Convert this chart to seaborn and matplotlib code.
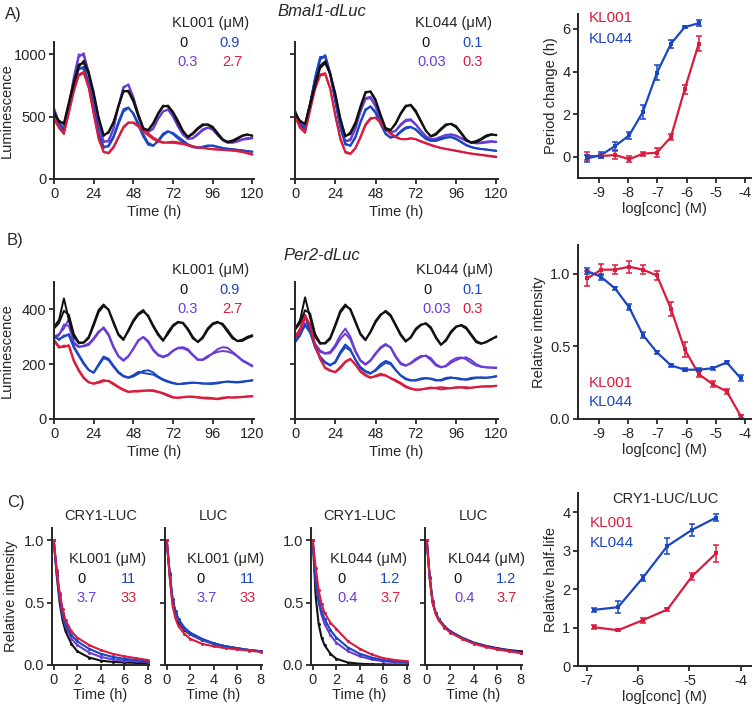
import numpy as np
import pandas as pd
import seaborn as sns
import matplotlib.pyplot as plt

# ---------------- data ----------------
hours = list(range(0, 121, 3))

# A) Bmal1-dLuc, KL001 (0, 0.3, 0.9, 2.7 uM), two replicates each
bmal_kl001_0_a = [520,470,440,600,760,900,950,860,700,500,355,370,450,580,700,710,640,520,410,390,440,520,580,590,540,470,390,335,360,400,430,440,420,370,320,295,300,320,345,355,350]
bmal_kl001_0_b = [540,460,450,620,780,920,930,840,680,480,345,380,460,590,710,700,620,500,400,395,450,530,590,580,530,450,380,340,370,410,440,435,410,360,315,300,310,330,350,360,345]
bmal_kl001_1_a = [560,460,400,600,820,1000,990,840,630,420,295,310,410,590,740,755,650,510,400,375,410,490,545,555,500,420,355,320,330,365,400,415,395,350,310,290,295,305,320,330,330]
bmal_kl001_1_b = [570,450,410,590,800,980,1010,860,650,440,305,300,400,580,730,760,660,520,410,380,400,480,540,560,510,430,365,325,325,355,390,410,400,360,320,295,290,300,315,320,325]
bmal_kl001_2_a = [540,440,380,560,760,880,900,780,580,370,260,260,330,440,540,570,530,450,360,290,270,300,350,380,370,340,310,280,260,250,255,265,270,260,250,245,240,235,230,225,220]
bmal_kl001_2_b = [550,450,390,580,780,900,880,760,560,360,250,270,345,460,560,575,520,430,340,275,265,310,365,385,360,325,295,270,255,250,260,270,265,255,245,240,238,232,228,222,218]
bmal_kl001_3_a = [500,420,370,540,720,840,860,740,530,330,220,210,260,340,420,455,450,420,380,350,320,300,290,295,300,295,285,275,265,255,250,245,240,238,235,232,230,225,220,210,200]
bmal_kl001_3_b = [480,410,360,530,700,830,850,730,520,320,215,205,250,330,410,450,455,430,395,365,335,310,295,290,290,285,280,270,260,252,248,244,238,236,233,230,228,222,216,205,195]

# A) Bmal1-dLuc, KL044 (0, 0.03, 0.1, 0.3 uM)
bmal_kl044_0_a = [540,460,445,610,770,910,945,850,690,490,345,360,440,570,690,705,640,520,410,395,440,520,580,597,550,470,390,340,355,395,430,445,425,375,320,290,295,315,340,355,355]
bmal_kl044_0_b = [520,470,440,590,750,890,930,840,680,480,340,375,455,585,700,700,625,505,400,390,450,530,590,590,535,460,385,345,365,405,440,440,415,365,310,295,305,325,350,360,350]
bmal_kl044_1_a = [540,450,420,600,800,960,990,850,640,430,300,310,400,540,640,650,580,480,390,370,390,440,475,480,440,390,345,320,325,340,355,355,345,325,305,290,290,295,300,305,300]
bmal_kl044_1_b = [550,440,430,610,810,970,980,840,630,425,305,320,410,550,650,660,590,490,400,375,385,430,465,470,435,385,340,315,320,335,350,360,350,330,310,295,285,288,292,298,296]
bmal_kl044_2_a = [540,440,410,600,820,980,980,830,620,410,275,270,340,460,560,580,530,440,360,330,345,385,415,420,395,355,320,305,310,325,335,335,320,295,270,255,245,240,235,230,225]
bmal_kl044_2_b = [550,430,400,590,800,960,995,850,640,420,285,265,330,450,550,585,540,450,365,335,340,375,405,415,400,360,325,308,305,318,330,338,325,300,275,258,248,242,238,232,228]
bmal_kl044_3_a = [520,420,380,560,740,840,850,730,520,330,220,205,250,340,440,490,490,450,400,360,335,320,320,328,320,305,290,275,262,250,242,235,228,220,212,205,200,195,190,185,180]
bmal_kl044_3_b = [500,410,370,550,720,830,840,720,505,320,212,200,245,330,430,480,495,460,410,368,340,322,318,325,318,300,285,270,258,248,240,233,225,218,210,203,197,192,186,180,175]

# B) Per2-dLuc, KL001
per2_kl001_0_a = [337,361,440,361,300,276,280,300,349,398,418,398,349,306,288,325,361,385,398,373,337,306,285,318,343,355,349,325,294,282,300,331,349,355,343,318,294,285,290,300,306]
per2_kl001_0_b = [330,350,395,380,310,280,278,295,340,390,412,400,355,310,292,320,355,380,392,378,342,312,288,310,338,352,352,330,300,280,295,325,345,352,348,325,300,284,285,295,302]
per2_kl001_1_a = [300,310,330,365,280,265,265,270,290,315,335,310,265,230,215,230,255,285,300,285,255,235,228,235,250,260,262,255,235,218,215,225,240,255,262,260,245,230,215,205,195]
per2_kl001_1_b = [295,305,345,340,275,262,268,275,295,320,330,305,260,228,212,228,258,288,298,280,250,232,225,232,248,258,258,250,232,215,218,230,238,245,248,246,240,228,212,202,192]
per2_kl001_2_a = [300,292,300,310,265,235,205,180,168,195,222,215,190,168,155,150,155,165,175,178,170,155,145,138,132,128,128,130,132,132,130,128,128,130,134,136,134,133,135,138,140]
per2_kl001_2_b = [305,288,305,305,260,230,200,178,170,200,228,220,195,172,158,152,160,172,168,165,162,152,142,135,130,127,130,132,133,131,129,130,131,133,135,137,136,135,137,139,142]
per2_kl001_3_a = [290,265,262,270,215,180,152,135,128,132,138,140,130,118,108,100,100,100,102,105,105,100,95,88,80,78,80,82,82,80,78,78,76,74,78,80,78,78,80,82,82]
per2_kl001_3_b = [285,260,268,265,210,175,148,133,130,136,142,138,126,115,105,98,102,103,104,103,102,98,92,84,78,77,79,81,80,78,76,74,74,72,75,78,79,80,81,82,84]

# B) Per2-dLuc, KL044
per2_kl044_0_a = [330,360,444,370,300,274,278,298,345,395,418,398,352,308,287,320,358,382,391,375,340,305,282,300,330,345,348,330,295,270,290,320,338,341,330,305,280,274,282,292,299]
per2_kl044_0_b = [325,350,397,385,310,278,275,292,338,388,412,402,358,312,290,316,352,378,395,380,345,310,285,296,325,342,350,335,300,272,285,315,335,344,335,310,285,276,280,290,302]
per2_kl044_1_a = [295,320,380,330,275,250,240,245,270,305,330,300,250,215,200,215,240,262,274,260,225,200,194,205,220,230,230,215,195,188,195,212,222,225,218,205,195,190,188,188,188]
per2_kl044_1_b = [280,305,350,320,268,245,238,240,262,292,312,290,245,212,198,212,236,258,270,262,230,205,196,202,215,226,232,222,200,190,192,205,215,222,225,215,200,192,189,187,186]
per2_kl044_2_a = [290,320,375,320,260,225,205,195,210,245,272,255,215,185,172,165,180,200,212,205,180,158,145,140,142,148,150,146,140,143,150,152,148,144,145,150,152,150,150,153,157]
per2_kl044_2_b = [280,305,342,315,262,228,208,198,205,238,262,250,218,190,175,168,176,192,205,200,178,160,148,142,140,145,148,148,143,140,146,150,150,147,143,146,150,152,151,152,155]
per2_kl044_3_a = [300,330,380,342,270,222,188,178,170,185,207,218,200,175,162,152,155,160,158,150,142,132,120,112,108,108,110,112,114,116,114,112,114,116,116,114,116,118,120,120,120]
per2_kl044_3_b = [295,320,370,345,265,218,185,175,172,190,210,220,198,172,158,150,158,165,160,148,138,128,116,110,106,107,112,115,112,108,110,113,116,115,112,114,117,119,118,118,122]

# dose-response curves (log10 M)
logc_period = [-9.40,-8.93,-8.45,-7.97,-7.50,-7.02,-6.54,-6.07,-5.59]
period_kl001 = [0.03,0.03,0.08,-0.12,0.14,0.19,0.92,3.16,5.30]
period_kl001_err = [0.20,0.10,0.20,0.15,0.10,0.20,0.15,0.20,0.35]
period_kl044 = [-0.08,0.08,0.50,1.00,2.10,3.94,5.30,6.08,6.27]
period_kl044_err = [0.15,0.15,0.20,0.15,0.35,0.35,0.20,0.05,0.15]

logc_amp = [-9.40,-8.93,-8.45,-7.97,-7.50,-7.02,-6.54,-6.07,-5.59,-5.11,-4.63,-4.15]
amp_kl001 = [0.97,1.03,1.03,1.05,1.03,0.99,0.76,0.48,0.31,0.24,0.19,0.02]
amp_kl001_err = [0.05,0.04,0.03,0.04,0.03,0.03,0.05,0.05,0.02,0.02,0.02,0.01]
amp_kl044 = [1.02,0.98,0.90,0.77,0.58,0.46,0.37,0.34,0.34,0.35,0.39,0.28]
amp_kl044_err = [0.02,0.02,0.01,0.02,0.02,0.01,0.01,0.01,0.01,0.01,0.01,0.02]

logc_half = [-6.86,-6.39,-5.91,-5.43,-4.95,-4.48]
half_kl001 = [1.01,0.93,1.19,1.47,2.33,2.93]
half_kl001_err = [0.05,0.03,0.06,0.04,0.10,0.22]
half_kl044 = [1.46,1.53,2.29,3.12,3.54,3.86]
half_kl044_err = [0.06,0.15,0.07,0.20,0.15,0.10]

# C) degradation time courses (relative intensity)
decay_t = [0,0.25,0.5,0.75,1,1.5,2,3,4,5,6,7,8]
cry_kl001_0 = [1.0,0.72,0.50,0.36,0.27,0.17,0.11,0.06,0.035,0.025,0.02,0.017,0.015]
cry_kl001_1 = [1.0,0.74,0.54,0.40,0.31,0.21,0.16,0.10,0.065,0.045,0.035,0.03,0.025]
cry_kl001_2 = [1.0,0.75,0.56,0.42,0.33,0.24,0.19,0.13,0.09,0.065,0.05,0.04,0.03]
cry_kl001_3 = [1.0,0.76,0.58,0.45,0.36,0.27,0.22,0.16,0.12,0.09,0.07,0.055,0.04]
luc_kl001_0 = [1.0,0.72,0.50,0.40,0.34,0.28,0.245,0.20,0.17,0.15,0.135,0.12,0.11]
luc_kl001_1 = [1.0,0.73,0.52,0.42,0.36,0.29,0.25,0.20,0.17,0.15,0.13,0.12,0.11]
luc_kl001_2 = [1.0,0.74,0.53,0.43,0.37,0.30,0.26,0.21,0.175,0.15,0.135,0.12,0.11]
luc_kl001_3 = [1.0,0.70,0.47,0.37,0.31,0.25,0.21,0.17,0.15,0.135,0.125,0.115,0.105]
cry_kl044_0 = [1.0,0.55,0.33,0.22,0.16,0.09,0.05,0.02,0.01,0.006,0.005,0.004,0.004]
cry_kl044_1 = [1.0,0.66,0.50,0.40,0.33,0.24,0.18,0.11,0.07,0.045,0.03,0.022,0.018]
cry_kl044_2 = [1.0,0.68,0.52,0.43,0.37,0.28,0.22,0.14,0.09,0.06,0.04,0.03,0.022]
cry_kl044_3 = [1.0,0.78,0.60,0.49,0.42,0.34,0.29,0.19,0.13,0.085,0.055,0.04,0.03]
luc_kl044_0 = [1.0,0.70,0.50,0.42,0.37,0.31,0.27,0.22,0.18,0.155,0.135,0.12,0.11]
luc_kl044_1 = [1.0,0.70,0.50,0.42,0.37,0.31,0.27,0.215,0.175,0.15,0.13,0.115,0.10]
luc_kl044_2 = [1.0,0.71,0.51,0.42,0.37,0.31,0.27,0.215,0.175,0.15,0.13,0.115,0.10]
luc_kl044_3 = [1.0,0.70,0.50,0.41,0.36,0.30,0.26,0.21,0.17,0.145,0.125,0.11,0.095]

# ---------------- style ----------------
sns.set_style('ticks')
plt.rcParams['font.family'] = ['Liberation Sans', 'DejaVu Sans']
plt.rcParams['axes.unicode_minus'] = False

BLACK, PURPLE, BLUE, RED = '#111111', '#6a3cd6', '#1a46c2', '#d81c3e'
dose_cols = [BLACK, PURPLE, BLUE, RED]
FS = 10.5

W, H = 754, 711
fig = plt.figure(figsize=(W / 100, H / 100), dpi=100)


def box(l, r, t, b):
    return fig.add_axes([l / W, 1 - b / H, (r - l) / W, (b - t) / H])


def ftext(x, y, s, **kw):
    kw.setdefault('ha', 'center')
    kw.setdefault('va', 'center')
    kw.setdefault('fontsize', FS)
    fig.text(x / W, 1 - y / H, s, **kw)


def style(ax):
    sns.despine(ax=ax)
    for s in ['left', 'bottom']:
        ax.spines[s].set_linewidth(1.4)
    ax.tick_params(width=1.3, length=3.5, labelsize=FS, pad=2)


def trace_frame(reps, doses):
    rows = []
    for dose, pair in zip(doses, reps):
        for k, vals in enumerate(pair):
            for t, v in zip(hours, vals):
                rows.append((t, v, dose, k))
    return pd.DataFrame(rows, columns=['time', 'lum', 'dose', 'rep'])


def trace_panel(ax, reps, doses, ymax, yticks, show_labels):
    df = trace_frame(reps, doses)
    pal = dict(zip(doses, dose_cols))
    order = doses[1:] + doses[:1]   # draw black last
    sns.lineplot(data=df, x='time', y='lum', hue='dose', units='rep', estimator=None,
                 hue_order=order, palette=pal, lw=1.4, legend=False, ax=ax)
    ax.set_xlim(0, 121)
    ax.set_ylim(0, ymax)
    ax.set_xticks([0, 24, 48, 72, 96, 120])
    ax.set_yticks(yticks)
    ax.set_xlabel('Time (h)', fontsize=FS, labelpad=3)
    if show_labels:
        ax.set_ylabel('Luminescence', fontsize=FS)
        ax.yaxis.set_label_coords(-0.2, 0.5)
    else:
        ax.set_ylabel('')
        ax.set_yticklabels([])
    style(ax)


def dose_legend(xh, y, name, doses, xs):
    ftext(xh, y, name + ' (\u03bcM)')
    ftext(xs[0], y + 20, doses[0], color=BLACK)
    ftext(xs[2], y + 20, doses[2], color=BLUE)
    ftext(xs[1], y + 39, doses[1], color=PURPLE)
    ftext(xs[3], y + 39, doses[3], color=RED)


def dr_panel(ax, x, y1, e1, y2, e2):
    df = pd.DataFrame({'logc': x + x, 'val': y1 + y2,
                       'cmp': ['KL001'] * len(x) + ['KL044'] * len(x)})
    sns.lineplot(data=df, x='logc', y='val', hue='cmp', palette={'KL001': RED, 'KL044': BLUE},
                 marker='s', markersize=3.5, markeredgewidth=0, lw=1.6, legend=False, ax=ax)
    ax.errorbar(x, y1, yerr=e1, fmt='none', ecolor=RED, elinewidth=1.1, capsize=2.5, capthick=1.1)
    ax.errorbar(x, y2, yerr=e2, fmt='none', ecolor=BLUE, elinewidth=1.1, capsize=2.5, capthick=1.1)
    ax.set_xlabel('log[conc] (M)', fontsize=FS, labelpad=2)
    style(ax)


# ---------------- A) Bmal1-dLuc ----------------
doses1 = ['0', '0.3', '0.9', '2.7']
doses44 = ['0', '0.03', '0.1', '0.3']

ax = box(54, 254, 42, 179)
trace_panel(ax, [(bmal_kl001_0_a, bmal_kl001_0_b), (bmal_kl001_1_a, bmal_kl001_1_b),
                 (bmal_kl001_2_a, bmal_kl001_2_b), (bmal_kl001_3_a, bmal_kl001_3_b)],
            doses1, 1100, [0, 500, 1000], True)
ax = box(295, 498, 42, 179)
trace_panel(ax, [(bmal_kl044_0_a, bmal_kl044_0_b), (bmal_kl044_1_a, bmal_kl044_1_b),
                 (bmal_kl044_2_a, bmal_kl044_2_b), (bmal_kl044_3_a, bmal_kl044_3_b)],
            doses44, 1100, [0, 500, 1000], False)
dose_legend(211, 23, 'KL001', doses1, [184, 188, 230, 232])
dose_legend(453, 23, 'KL044', doses44, [425, 432, 473, 473])
ftext(322, 11, 'Bmal1-dLuc', fontsize=12, style='italic')

ax = box(578, 751, 14, 178)
dr_panel(ax, logc_period, period_kl001, period_kl001_err, period_kl044, period_kl044_err)
ax.set_xlim(-9.72, -3.8)
ax.set_ylim(-1, 6.7)
ax.set_xticks([-9, -8, -7, -6, -5, -4])
ax.set_yticks([0, 2, 4, 6])
ax.set_ylabel('Period change (h)', fontsize=FS, labelpad=3)
ftext(589, 18, 'KL001', color=RED, ha='left', fontsize=11)
ftext(589, 39, 'KL044', color=BLUE, ha='left', fontsize=11)

# ---------------- B) Per2-dLuc ----------------
ax = box(54, 254, 282, 419)
trace_panel(ax, [(per2_kl001_0_a, per2_kl001_0_b), (per2_kl001_1_a, per2_kl001_1_b),
                 (per2_kl001_2_a, per2_kl001_2_b), (per2_kl001_3_a, per2_kl001_3_b)],
            doses1, 500, [0, 200, 400], True)
ax = box(295, 498, 282, 419)
trace_panel(ax, [(per2_kl044_0_a, per2_kl044_0_b), (per2_kl044_1_a, per2_kl044_1_b),
                 (per2_kl044_2_a, per2_kl044_2_b), (per2_kl044_3_a, per2_kl044_3_b)],
            doses44, 500, [0, 200, 400], False)
dose_legend(211, 270, 'KL001', doses1, [184, 188, 230, 232])
dose_legend(454, 270, 'KL044', doses44, [427, 437, 473, 473])
ftext(322, 255, 'Per2-dLuc', fontsize=12, style='italic')

ax = box(578, 751, 245, 419)
dr_panel(ax, logc_amp, amp_kl001, amp_kl001_err, amp_kl044, amp_kl044_err)
ax.set_xlim(-9.72, -3.8)
ax.set_ylim(0, 1.2)
ax.set_xticks([-9, -8, -7, -6, -5, -4])
ax.set_yticks([0, 0.5, 1.0])
ax.set_yticklabels(['0.0', '0.5', '1.0'])
ax.set_ylabel('Relative intensity', fontsize=FS, labelpad=3)
ftext(589, 383, 'KL001', color=RED, ha='left', fontsize=11)
ftext(589, 402, 'KL044', color=BLUE, ha='left', fontsize=11)

# ---------------- C) degradation ----------------
def decay_panel(ax, curves, title, ylab, yticklab):
    rows = []
    for i, vals in enumerate(curves):
        for t, v in zip(decay_t, vals):
            rows.append((t, v, i))
    df = pd.DataFrame(rows, columns=['t', 'rel', 'dose'])
    sns.lineplot(data=df, x='t', y='rel', hue='dose', palette=dict(enumerate(dose_cols)),
                 hue_order=[0, 1, 2, 3], marker='o', markersize=2.2, markeredgewidth=0,
                 lw=1.5, legend=False, ax=ax)
    ax.set_xlim(-0.15, 8.1)
    ax.set_ylim(0, 1.1)
    ax.set_xticks([0, 2, 4, 6, 8])
    ax.set_yticks([0, 0.5, 1.0])
    ax.set_xlabel('Time (h)', fontsize=FS, labelpad=1)
    ax.set_title(title, fontsize=FS, pad=6)
    if yticklab:
        ax.set_yticklabels(['0.0', '0.5', '1.0'])
    else:
        ax.set_yticklabels([])
    ax.set_ylabel(ylab, fontsize=FS)
    if ylab:
        ax.yaxis.set_label_coords(-0.35, 0.5)
    style(ax)


ax = box(52, 149, 528, 665)
decay_panel(ax, [cry_kl001_0, cry_kl001_1, cry_kl001_2, cry_kl001_3], 'CRY1-LUC', 'Relative intensity', True)
ax = box(165, 262, 528, 665)
decay_panel(ax, [luc_kl001_0, luc_kl001_1, luc_kl001_2, luc_kl001_3], 'LUC', '', False)
ax = box(311, 408, 528, 665)
decay_panel(ax, [cry_kl044_0, cry_kl044_1, cry_kl044_2, cry_kl044_3], 'CRY1-LUC', '', True)
ax = box(425, 522, 528, 665)
decay_panel(ax, [luc_kl044_0, luc_kl044_1, luc_kl044_2, luc_kl044_3], 'LUC', '', False)

dose_legend(108, 559, 'KL001', ['0', '3.7', '11', '33'], [82, 87, 128, 129])
dose_legend(226, 559, 'KL001', ['0', '3.7', '11', '33'], [200, 207, 247, 248])
dose_legend(368, 559, 'KL044', ['0', '0.4', '1.2', '3.7'], [342, 348, 390, 391])
dose_legend(486, 559, 'KL044', ['0', '0.4', '1.2', '3.7'], [458, 465, 506, 507])

ax = box(578, 751, 493, 666)
dr_panel(ax, logc_half, half_kl001, half_kl001_err, half_kl044, half_kl044_err)
ax.set_xlim(-7.17, -3.8)
ax.set_ylim(0, 4.5)
ax.set_xticks([-7, -6, -5, -4])
ax.set_yticks([0, 1, 2, 3, 4])
ax.set_ylabel('Relative half-life', fontsize=FS, labelpad=3)
ftext(665, 499, 'CRY1-LUC/LUC', fontsize=FS)
ftext(590, 523, 'KL001', color=RED, ha='left', fontsize=11)
ftext(590, 543, 'KL044', color=BLUE, ha='left', fontsize=11)

# panel letters
ftext(5, 14, 'A)', ha='left', fontsize=12)
ftext(7, 241, 'B)', ha='left', fontsize=12)
ftext(7, 503, 'C)', ha='left', fontsize=12)

fig.savefig('out.png', dpi=100)
